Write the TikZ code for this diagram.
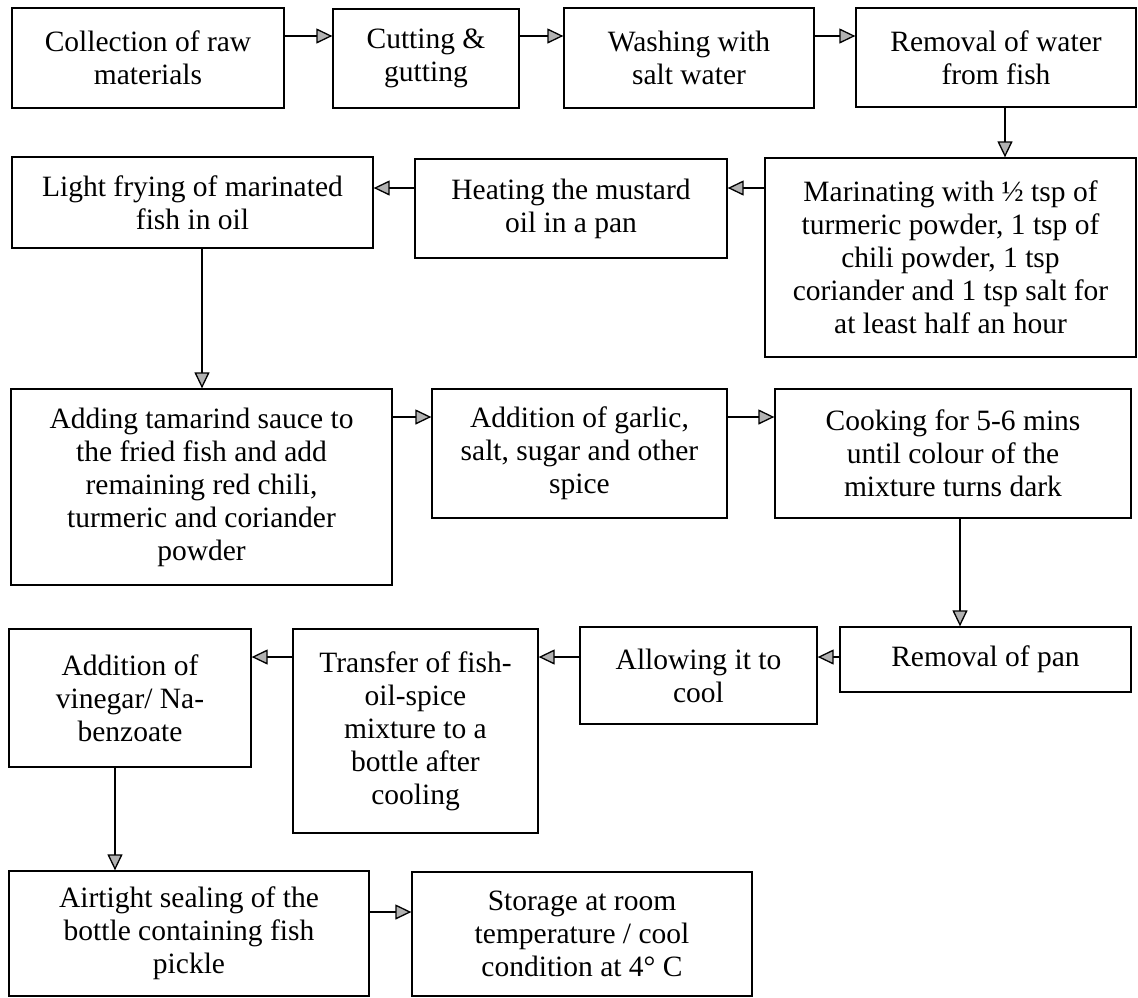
\documentclass[tikz,border=0pt]{standalone}
\usepackage{fontspec}
\setmainfont{Liberation Serif}
\usepackage{tikz}
\usetikzlibrary{arrows.meta,calc}

\tikzset{
  procbox/.style={draw, line width=1.3pt, inner sep=0pt, align=center,
    font=\fontsize{29.5}{33}\selectfont},
  flow/.style={line width=1.3pt,
    -{Triangle[length=16pt,width=15pt,fill=gray!60]}}
}

\begin{document}
\begin{tikzpicture}[x=1pt,y=-1pt]
\useasboundingbox (0,0) rectangle (1138,997);

% row 1
\node [procbox, minimum width=272, minimum height=100] (collect) at (148,58)
  {Collection of raw\\ materials};
\node [procbox, minimum width=186, minimum height=99] (cut) at (426,58.5)
  {Cutting \&\\ gutting};
\node [procbox, minimum width=250, minimum height=100] (wash) at (689,58)
  {Washing with\\ salt water};
\node [procbox, minimum width=280, minimum height=99] (dry) at (996,57.5)
  {Removal of water\\ from fish};
%
% row 2
\node [procbox, minimum width=361, minimum height=91] (fry) at (192.5,202.5)
  {Light frying of marinated\\ fish in oil};
\node [procbox, minimum width=312, minimum height=99] (heat) at (571,208.5)
  {Heating the mustard\\ oil in a pan};
\node [procbox, minimum width=371, minimum height=199] (marinate) at (950.5,257.5)
  {Marinating with ½ tsp of\\ turmeric powder, 1 tsp of\\ chili powder, 1 tsp\\
   coriander and 1 tsp salt for\\ at least half an hour};
%
% row 3
\node [procbox, minimum width=381, minimum height=196] (tamarind) at (201.5,487)
  {Adding tamarind sauce to\\ the fried fish and add\\ remaining red chili,\\
   turmeric and coriander\\ powder};
\node [procbox, minimum width=295, minimum height=129] (garlic) at (579.5,453.5)
  {Addition of garlic,\\ salt, sugar and other\\ spice};
\node [procbox, minimum width=356, minimum height=129] (cook) at (953,453.5)
  {Cooking for 5-6 mins\\ until colour of the\\ mixture turns dark};
%
% row 4
\node [procbox, minimum width=242, minimum height=138] (vinegar) at (130,698)
  {Addition of\\ vinegar/ Na-\\ benzoate};
\node [procbox, minimum width=245, minimum height=204] (transfer) at (415.5,731)
  {Transfer of fish-\\ oil-spice\\ mixture to a\\ bottle after\\ cooling};
\node [procbox, minimum width=237, minimum height=97] (cool) at (698.5,675.5)
  {Allowing it to\\ cool};
\node [procbox, minimum width=291, minimum height=65] (pan) at (985.5,659.5)
  {Removal of pan};
%
% row 5
\node [procbox, minimum width=360, minimum height=125] (seal) at (189,933.5)
  {Airtight sealing of the\\ bottle containing fish\\ pickle};
\node [procbox, minimum width=340, minimum height=124] (store) at (582,934)
  {Storage at room\\ temperature / cool\\ condition at 4° C};

% levels of the connectors
\coordinate (r1) at (0,36);
\coordinate (r2) at (0,188);
\coordinate (r3) at (0,417);
\coordinate (r4) at (0,657);
\coordinate (r5) at (0,912);
\coordinate (c1) at (1005,0);
\coordinate (c2) at (202,0);
\coordinate (c3) at (960,0);
\coordinate (c4) at (115,0);

\draw [flow] (collect.east |- r1) -- (cut.west |- r1);
\draw [flow] (cut.east |- r1) -- (wash.west |- r1);
\draw [flow] (wash.east |- r1) -- (dry.west |- r1);
\draw [flow] (dry.south -| c1) -- (marinate.north -| c1);
\draw [flow] (marinate.west |- r2) -- (heat.east |- r2);
\draw [flow] (heat.west |- r2) -- (fry.east |- r2);
\draw [flow] (fry.south -| c2) -- (tamarind.north -| c2);
\draw [flow] (tamarind.east |- r3) -- (garlic.west |- r3);
\draw [flow] (garlic.east |- r3) -- (cook.west |- r3);
\draw [flow] (cook.south -| c3) -- (pan.north -| c3);
\draw [flow] (pan.west |- r4) -- (cool.east |- r4);
\draw [flow] (cool.west |- r4) -- (transfer.east |- r4);
\draw [flow] (transfer.west |- r4) -- (vinegar.east |- r4);
\draw [flow] (vinegar.south -| c4) -- (seal.north -| c4);
\draw [flow] (seal.east |- r5) -- (store.west |- r5);

\end{tikzpicture}
\end{document}
